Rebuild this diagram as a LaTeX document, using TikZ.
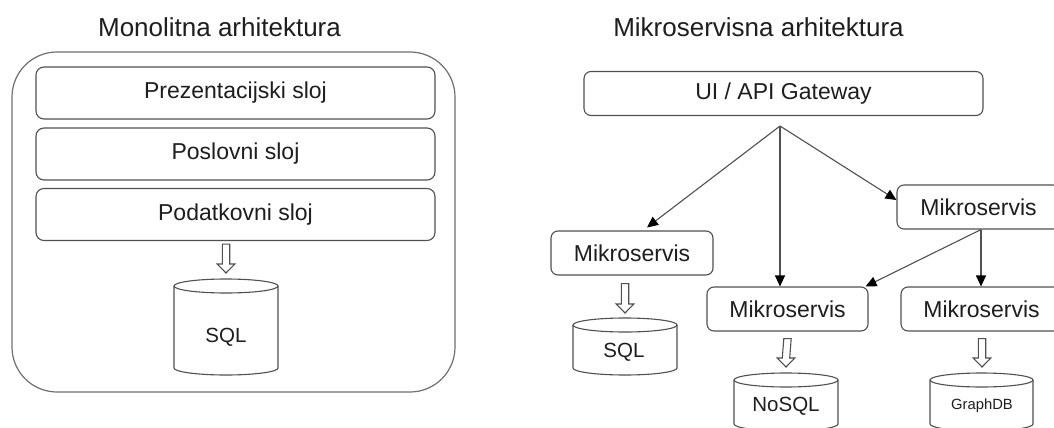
\documentclass[tikz,border=0pt]{standalone}
\usepackage{fontspec}
\setmainfont{Liberation Sans}
\usetikzlibrary{calc,arrows.meta}
\definecolor{txt}{HTML}{1E1E1E}
\definecolor{ln}{HTML}{505050}
\definecolor{outerln}{HTML}{707070}
\tikzset{
  title/.style={text=txt, font=\fontsize{26}{30}\selectfont, inner sep=0pt},
  layer/.style={draw=ln, line width=1.1pt, rounded corners=8pt, minimum width=399pt, minimum height=52pt, text=txt, font=\fontsize{23}{27}\selectfont, inner sep=0pt},
  svc/.style={draw=ln, line width=1.1pt, rounded corners=7pt, minimum height=44pt, text=txt, font=\fontsize{23}{27}\selectfont, inner sep=0pt},
  container/.style={draw=outerln, line width=1.2pt, rounded corners=45pt, minimum width=443pt, minimum height=340pt},
  cyl/.style={draw=ln, line width=1.1pt},
  dbtext/.style={text=txt, font=\fontsize{20.5}{24}\selectfont, inner sep=0pt},
  hollow/.style={draw=ln, line width=1.1pt, fill=white, line join=miter},
  conn/.style={draw=ln, line width=1.1pt, -{Triangle[length=11pt,width=10pt,color=black]}},
}
\newcommand\dbcyl[5]{% name, cx, top, bottom, half width
  \coordinate (#1-top) at (#2,#3);
  \draw[cyl] (#2,#3+7) ellipse [x radius=#5pt, y radius=7pt];
  \draw[cyl] (#2-#5,#3+7) -- (#2-#5,#4-7) arc[start angle=180, end angle=360, x radius=#5pt, y radius=7pt] -- (#2+#5,#3+7);
}
\newcommand\harrow[2]{% start, tip
  \draw[hollow] ($(#1)+(-3.7,0)$) -- ($(#2)+(-3.7,-9)$) -- ($(#2)+(-8.8,-9)$) -- (#2) -- ($(#2)+(8.8,-9)$) -- ($(#2)+(3.7,-9)$) -- ($(#1)+(3.7,0)$) -- cycle;
}
\begin{document}
\begin{tikzpicture}[x=1pt,y=-1pt]
\useasboundingbox (0,0) rectangle (1054,428);
\fill[white] (0,0) rectangle (1054,428);
\clip (0,0) rectangle (1054,428);

% ---------- Monolith ----------
\node[title] (t1) at (219.5,27) {Monolitna arhitektura};
\node[container] (mono) at (233.5,222) {};
\node[layer] (l1) at (235.5,93) {Prezentacijski sloj};
\node[layer] (l2) at (235.5,154) {Poslovni sloj};
\node[layer] (l3) at (235.5,214.5) {Podatkovni sloj};
\dbcyl{db1}{226}{279}{375}{52}
\node[dbtext] (db1) at (226,337) {SQL};
\coordinate (a1s) at ($(l3.south)+(-9.5,3)$);
\coordinate (a1e) at ($(db1-top)+(0,-6)$);
\harrow{a1s}{a1e}

% ---------- Microservices ----------
\node[title] (t2) at (758.5,27) {Mikroservisna arhitektura};
\node[svc, minimum width=399pt] (gw) at (783.5,93.5) {UI / API Gateway};
\coordinate (hub) at (780,126);
\node[svc, minimum width=162pt] (msL) at (632,253) {Mikroservis};
\node[svc, minimum width=163pt] (msT) at (978.5,207) {Mikroservis};
\node[svc, minimum width=161pt] (msM) at (787.5,309) {Mikroservis};
\node[svc, minimum width=161pt] (msR) at (981.5,309) {Mikroservis};

\draw[conn] (hub) -- ($(msL.north)+(15,-3)$);
\draw[conn] (hub) -- (hub |- msM.north);
\draw[conn] (hub) -- ($(msT.west)+(0,-7)$);
\coordinate (tb) at ($(msT.south)+(2.5,0)$);
\draw[conn] (tb) -- ($(msM.north east)+(-3,0)$);
\draw[conn] (tb) -- (tb |- msR.north);

\dbcyl{db2}{625}{318}{375}{52}
\node[dbtext] (db2) at (624,352) {SQL};
\dbcyl{db3}{786}{373}{431}{52}
\node[dbtext] (db3) at (786,406) {NoSQL};
\dbcyl{db4}{981.5}{373}{431}{51.5}
\node[dbtext, font=\fontsize{14.8}{18}\selectfont] (db4) at (982,406) {GraphDB};

\coordinate (a2s) at ($(msL.south)+(-7,8)$);
\coordinate (a2e) at ($(db2-top)+(0,-5)$);
\harrow{a2s}{a2e}
\coordinate (a3s) at ($(msM.south)+(0,7)$);
\coordinate (a3e) at ($(db3-top)+(0,-6)$);
\harrow{a3s}{a3e}
\coordinate (a4s) at ($(msR.south)+(0.5,7)$);
\coordinate (a4e) at ($(db4-top)+(0.5,-6)$);
\harrow{a4s}{a4e}
\end{tikzpicture}
\end{document}
